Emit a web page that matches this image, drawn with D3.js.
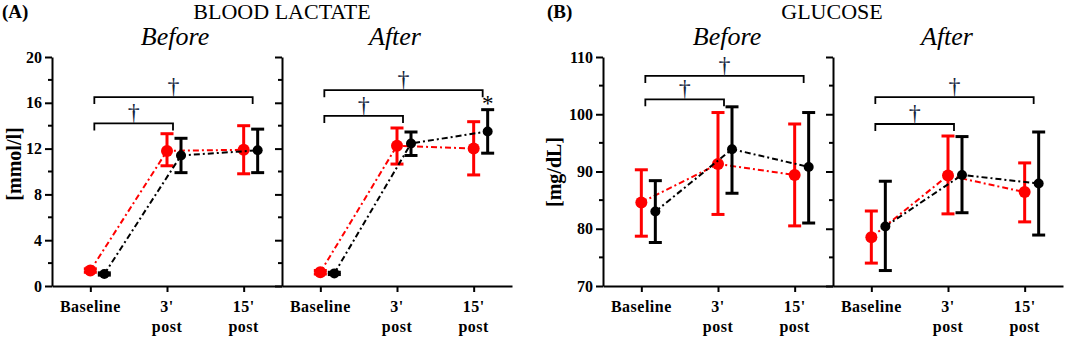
<!DOCTYPE html>
<html>
<head>
<meta charset="utf-8">
<script src="https://cdn.jsdelivr.net/npm/d3@7"></script>
<style>
  body { margin: 0; background: #fff; }
  svg { display: block; }
  text { font-family: "Liberation Serif", "Times New Roman", serif; }
</style>
</head>
<body>
<svg id="chart" width="1065" height="338"></svg>
<script>
// categories and tick labels
const categories = ["Baseline", "3' post", "15' post"];
const tickLines = [["Baseline"], ["3'", "post"], ["15'", "post"]];

// blood lactate [mmol/l] - red / black groups, mean and error ends
const lacBeforeRed = [1.35, 11.8, 11.9];
const lacBeforeRedLo = [1.2, 10.5, 9.8];
const lacBeforeRedHi = [1.5, 13.3, 14.0];
const lacBeforeBlack = [1.05, 11.4, 11.85];
const lacBeforeBlackLo = [0.95, 9.9, 9.9];
const lacBeforeBlackHi = [1.15, 12.9, 13.7];

const lacAfterRed = [1.2, 12.25, 12.0];
const lacAfterRedLo = [1.05, 10.65, 9.7];
const lacAfterRedHi = [1.35, 13.8, 14.35];
const lacAfterBlack = [1.1, 12.45, 13.5];
const lacAfterBlackLo = [1.0, 11.4, 11.6];
const lacAfterBlackHi = [1.2, 13.45, 15.4];

// glucose [mg/dL]
const gluBeforeRed = [84.6, 91.3, 89.4];
const gluBeforeRedLo = [78.7, 82.5, 80.5];
const gluBeforeRedHi = [90.3, 100.3, 98.3];
const gluBeforeBlack = [83.0, 93.9, 90.8];
const gluBeforeBlackLo = [77.6, 86.2, 81.0];
const gluBeforeBlackHi = [88.4, 101.3, 100.3];

const gluAfterRed = [78.5, 89.3, 86.4];
const gluAfterRedLo = [74.0, 82.6, 81.2];
const gluAfterRedHi = [83.1, 96.2, 91.5];
const gluAfterBlack = [80.4, 89.4, 87.9];
const gluAfterBlackLo = [72.7, 82.8, 78.9];
const gluAfterBlackHi = [88.3, 96.1, 96.9];

// significance brackets: [from category, to category, level in data units]
const lacBeforeBrackets = [[0, 2, 16.5], [0, 1, 14.2]];
const lacAfterBrackets = [[0, 2, 17.1], [0, 1, 14.85]];
const gluBeforeBrackets = [[0, 2, 106.7], [0, 1, 102.6]];
const gluAfterBrackets = [[0, 2, 103.0], [0, 1, 98.3]];

const lacTicks = [0, 4, 8, 12, 16, 20];
const lacMinor = [2, 6, 10, 14, 18];
const gluTicks = [70, 80, 90, 100, 110];
const gluMinor = [75, 85, 95, 105];

const RED = "#ff0000";
const BLACK = "#000000";
const OFFSET = 14;   // black group drawn shifted right
const PANEL_W = 230;
const TOP = 57, BOTTOM = 286;

const svg = d3.select("#chart");

function series(vals, lo, hi) {
	return vals.map((v, i) => ({ cat: categories[i], v: v, lo: lo[i], hi: hi[i] }));
}

function drawPanel(x0, yscale, ticks, minor, showLabels, red, black, brackets, star) {
	let x = d3.scalePoint().domain(categories).range([x0, x0 + PANEL_W]).padding(0.5);
	let g = svg.append("g");

	// y axis
	let yAxis = g.append("g")
		.attr("transform", "translate(" + x0 + ",0)")
		.call(d3.axisLeft(yscale).tickValues(ticks).tickSize(7).tickSizeOuter(0)
			.tickFormat(showLabels ? d3.format("d") : ""));
	yAxis.selectAll("text")
		.style("font-family", "Liberation Serif")
		.style("font-weight", "bold")
		.style("font-size", "16px")
		.attr("x", -10)
		.attr("fill", "#000");
	yAxis.selectAll("line, path").attr("stroke", "#000").attr("stroke-width", 2);

	g.selectAll(".minor")
		.data(minor)
		.enter()
		.append("line")
		.attr("x1", x0 - 4).attr("x2", x0)
		.attr("y1", d => yscale(d)).attr("y2", d => yscale(d))
		.attr("stroke", "#000").attr("stroke-width", 2);

	// x axis
	let xAxis = g.append("g")
		.attr("transform", "translate(0," + BOTTOM + ")")
		.call(d3.axisBottom(x).tickSize(6).tickSizeOuter(0).tickFormat(""));
	xAxis.selectAll("line, path").attr("stroke", "#000").attr("stroke-width", 2);

	let lbl = g.selectAll(".xl")
		.data(categories)
		.enter()
		.append("text")
		.attr("x", d => x(d))
		.attr("y", 312)
		.attr("text-anchor", "middle")
		.style("font-weight", "bold")
		.style("font-size", "16px")
		.style("letter-spacing", "0.5px");
	lbl.each(function(d, i) {
		let t = d3.select(this);
		tickLines[i].forEach((s, j) => {
			t.append("tspan").attr("x", x(d)).attr("dy", j === 0 ? 0 : 20).text(s);
		});
	});

	// brackets
	brackets.forEach(b => {
		let xa = x(categories[b[0]]) + 4;
		let xb = x(categories[b[1]]) + (b[1] === 2 ? 9 : 6);
		let yb = yscale(b[2]);
		g.append("path")
			.attr("d", "M" + xa + "," + (yb + 7) + "V" + yb + "H" + xb + "V" + (yb + 7))
			.attr("fill", "none").attr("stroke", "#000").attr("stroke-width", 1.8);
		g.append("text")
			.attr("x", (xa + xb) / 2)
			.attr("y", yb - 3)
			.attr("text-anchor", "middle")
			.style("font-size", "24px")
			.attr("fill", "#14243c")
			.text("\u2020");
	});

	// series: red drawn first, black over it
	[[red, RED, 0, 6], [black, BLACK, OFFSET, 5]].forEach(s => {
		let data = s[0], col = s[1], dx = s[2], r = s[3];
		let line = d3.line().x(d => x(d.cat) + dx).y(d => yscale(d.v));
		g.append("path")
			.attr("d", line(data))
			.attr("fill", "none")
			.attr("stroke", col)
			.attr("stroke-width", 2)
			.attr("stroke-dasharray", "6,3,2,3");
		let eb = g.selectAll(null).data(data).enter().append("g");
		eb.append("line")
			.attr("x1", d => x(d.cat) + dx).attr("x2", d => x(d.cat) + dx)
			.attr("y1", d => yscale(d.lo)).attr("y2", d => yscale(d.hi))
			.attr("stroke", col).attr("stroke-width", 3);
		["lo", "hi"].forEach(k => {
			eb.append("line")
				.attr("x1", d => x(d.cat) + dx - 6.5).attr("x2", d => x(d.cat) + dx + 6.5)
				.attr("y1", d => yscale(d[k])).attr("y2", d => yscale(d[k]))
				.attr("stroke", col).attr("stroke-width", 3);
		});
		eb.append("circle")
			.attr("cx", d => x(d.cat) + dx)
			.attr("cy", d => yscale(d.v))
			.attr("r", r)
			.attr("fill", col);
	});

	if (star) {
		let d = black[star.index];
		g.append("text")
			.attr("x", x(d.cat) + OFFSET)
			.attr("y", yscale(d.hi) + 1)
			.attr("text-anchor", "middle")
			.style("font-size", "23px")
			.text("*");
	}
	return x;
}

let yLac = d3.scaleLinear().domain([0, 20]).range([BOTTOM, TOP]);
let yGlu = d3.scaleLinear().domain([70, 110]).range([BOTTOM, TOP]);

drawPanel(52, yLac, lacTicks, lacMinor, true,
	series(lacBeforeRed, lacBeforeRedLo, lacBeforeRedHi),
	series(lacBeforeBlack, lacBeforeBlackLo, lacBeforeBlackHi),
	lacBeforeBrackets, null);
drawPanel(282, yLac, lacTicks, lacMinor, false,
	series(lacAfterRed, lacAfterRedLo, lacAfterRedHi),
	series(lacAfterBlack, lacAfterBlackLo, lacAfterBlackHi),
	lacAfterBrackets, { index: 2 });
drawPanel(603, yGlu, gluTicks, gluMinor, true,
	series(gluBeforeRed, gluBeforeRedLo, gluBeforeRedHi),
	series(gluBeforeBlack, gluBeforeBlackLo, gluBeforeBlackHi),
	gluBeforeBrackets, null);
drawPanel(833, yGlu, gluTicks, gluMinor, false,
	series(gluAfterRed, gluAfterRedLo, gluAfterRedHi),
	series(gluAfterBlack, gluAfterBlackLo, gluAfterBlackHi),
	gluAfterBrackets, null);

// titles
function txt(x, y, s, size, weight, style, anchor) {
	svg.append("text")
		.attr("x", x).attr("y", y)
		.attr("text-anchor", anchor || "middle")
		.style("font-size", size + "px")
		.style("font-weight", weight || "normal")
		.style("font-style", style || "normal")
		.text(s);
}
txt(2, 18, "(A)", 19, "bold", null, "start");
txt(547, 18, "(B)", 19, "bold", null, "start");
txt(282, 19, "BLOOD LACTATE", 22);
txt(832, 19, "GLUCOSE", 22);
txt(175, 45, "Before", 26, null, "italic");
txt(395, 45, "After", 26, null, "italic");
txt(727, 45, "Before", 26, null, "italic");
txt(947, 45, "After", 26, null, "italic");

// y labels
[[14, 164, "[mmol/l]"], [554, 172, "[mg/dL]"]].forEach(d => {
	svg.append("text")
		.attr("transform", "translate(" + d[0] + "," + d[1] + ") rotate(-90)")
		.attr("text-anchor", "middle")
		.attr("dy", "0.35em")
		.style("font-weight", "bold")
		.style("font-size", "20px")
		.text(d[2]);
});
</script>
</body>
</html>
